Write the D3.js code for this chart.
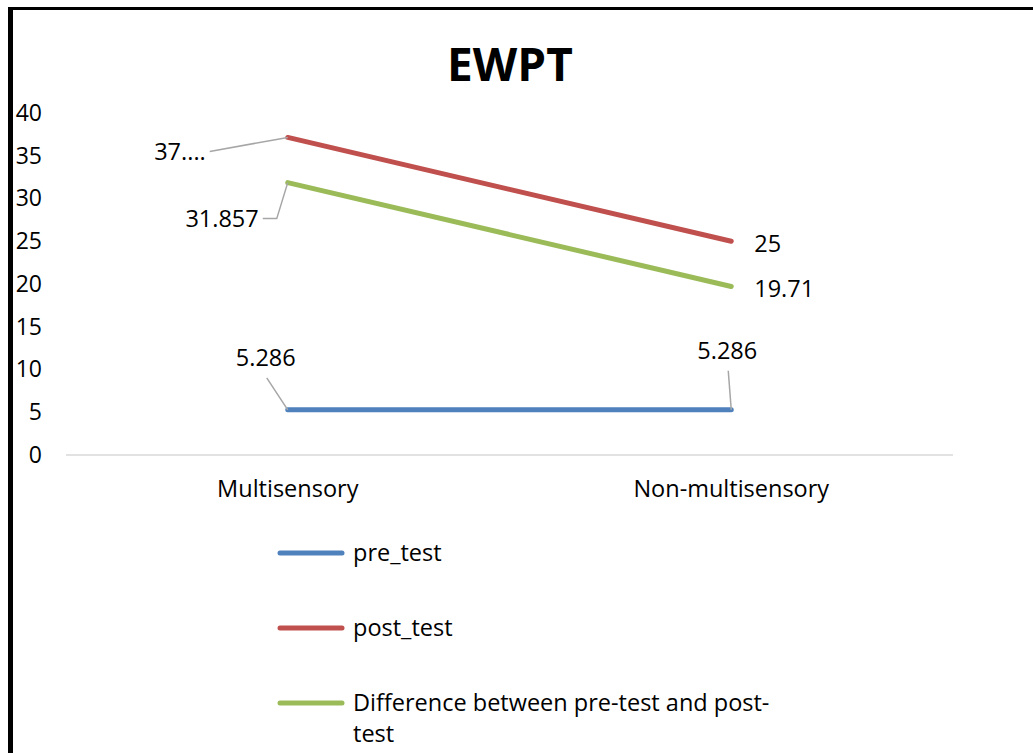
<!DOCTYPE html>
<html>
<head>
<meta charset="utf-8">
<script src="https://cdn.jsdelivr.net/npm/d3@7"></script>
<style>
  body { margin: 0; background: #fff; }
  text { font-family: "Open Sans", sans-serif; fill: #000; }
</style>
</head>
<body>
<div id="chart"></div>
<script>
var W = 1033, H = 753;
var margin = { top: 113, left: 66, right: 80, bottom: 298 };

// data
var categories = ["Multisensory", "Non-multisensory"];
var seriesNames = ["pre_test", "post_test", "Difference between pre-test and post-test"];
var preTest = [5.286, 5.286];
var postTest = [37.143, 25];
var difference = [31.857, 19.71];
var preLabels = ["5.286", "5.286"];
var postLabels = ["37....", "25"];
var diffLabels = ["31.857", "19.71"];
var yTicks = [0, 5, 10, 15, 20, 25, 30, 35, 40];
var colors = ["#4f81bd", "#c0504d", "#9bbb59"];

var series = [
    { name: seriesNames[0], values: preTest, labels: preLabels, color: colors[0] },
    { name: seriesNames[1], values: postTest, labels: postLabels, color: colors[1] },
    { name: seriesNames[2], values: difference, labels: diffLabels, color: colors[2] }
];

// where each data label sits relative to its point (dx, dy, anchor, leader?)
var labelPos = [
    [{ dx: -22, dy: -52, anchor: "middle", leader: true }, { dx: -4, dy: -59, anchor: "middle", leader: true }],
    [{ dx: -82, dy: 14, anchor: "end", leader: true }, { dx: 23, dy: 3, anchor: "start", leader: false }],
    [{ dx: -29, dy: 36, anchor: "end", leader: true }, { dx: 23, dy: 2, anchor: "start", leader: false }]
];

var fs = "23.5px";

var svg = d3.select("#chart").append("svg")
    .attr("width", W)
    .attr("height", H);

svg.append("rect").attr("width", W).attr("height", H).attr("fill", "#fff");

// black frame on top and left
svg.append("rect").attr("x", 8).attr("y", 7).attr("width", W - 8).attr("height", 3).attr("fill", "#000");
svg.append("rect").attr("x", 8).attr("y", 7).attr("width", 5).attr("height", H - 7).attr("fill", "#000");

var x = d3.scaleBand()
    .domain(categories)
    .range([margin.left, W - margin.right]);

var y = d3.scaleLinear()
    .domain([0, 40])
    .range([H - margin.bottom, margin.top]);

svg.append("text")
    .attr("x", 510)
    .attr("y", 81)
    .attr("text-anchor", "middle")
    .style("font-size", "46px")
    .style("font-weight", "bold")
    .text("EWPT");

// y axis labels
var yAxis = svg.append("g")
    .attr("transform", "translate(42,0)")
    .call(d3.axisLeft(y).tickValues(yTicks).tickSize(0).tickPadding(0));
yAxis.select(".domain").remove();
yAxis.selectAll("text")
    .style("font-size", "23px")
    .style("font-family", "'Open Sans', sans-serif")
    .attr("fill", "#000");

// baseline
svg.append("line")
    .attr("x1", margin.left).attr("x2", W - margin.right)
    .attr("y1", y(0)).attr("y2", y(0))
    .attr("stroke", "#d9d9d9").attr("stroke-width", 1.5);

// x axis labels
var xAxis = svg.append("g")
    .attr("transform", "translate(0," + (y(0) + 25) + ")")
    .call(d3.axisBottom(x).tickSize(0).tickPadding(0));
xAxis.select(".domain").remove();
xAxis.selectAll("text")
    .style("font-size", fs)
    .style("font-family", "'Open Sans', sans-serif")
    .attr("fill", "#000");

var line = d3.line()
    .x(function(d, i) { return x(categories[i]) + x.bandwidth() / 2; })
    .y(function(d) { return y(d); });

series.forEach(function(s, si) {
    svg.append("path")
        .datum(s.values)
        .attr("d", line)
        .attr("fill", "none")
        .attr("stroke", s.color)
        .attr("stroke-width", 5)
        .attr("stroke-linecap", "round");

    s.values.forEach(function(v, i) {
        var px = x(categories[i]) + x.bandwidth() / 2;
        var py = y(v);
        var p = labelPos[si][i];
        svg.append("text")
            .attr("x", px + p.dx)
            .attr("y", py + p.dy)
            .attr("dy", "0.35em")
            .attr("text-anchor", p.anchor)
            .style("font-size", fs)
            .text(s.labels[i]);
        if (p.leader) {
            var lx, ly;
            if (p.anchor === "middle") { lx = px + p.dx + 1; ly = py + p.dy + 20; }
            else { lx = px + p.dx + 4; ly = py + p.dy; }
            var pts = [[lx, ly]];
            if (si === 2) pts.push([lx + 14, ly]);
            pts.push([px, py]);
            svg.append("path")
                .attr("d", d3.line()(pts))
                .attr("fill", "none")
                .attr("stroke", "#a6a6a6")
                .attr("stroke-width", 1.5);
        }
    });
});

// legend
var legend = svg.append("g");
series.forEach(function(s, i) {
    var ly = 553 + i * 75;
    legend.append("line")
        .attr("x1", 280).attr("x2", 342)
        .attr("y1", ly).attr("y2", ly)
        .attr("stroke", s.color)
        .attr("stroke-width", 5)
        .attr("stroke-linecap", "round");
    var t = legend.append("text")
        .attr("x", 353)
        .attr("y", ly)
        .attr("dy", "0.35em")
        .style("font-size", fs);
    if (i === 2) {
        t.append("tspan").attr("x", 353).text("Difference between pre-test and post-");
        t.append("tspan").attr("x", 353).attr("dy", 31).text("test");
    } else {
        t.text(s.name);
    }
});
</script>
</body>
</html>
